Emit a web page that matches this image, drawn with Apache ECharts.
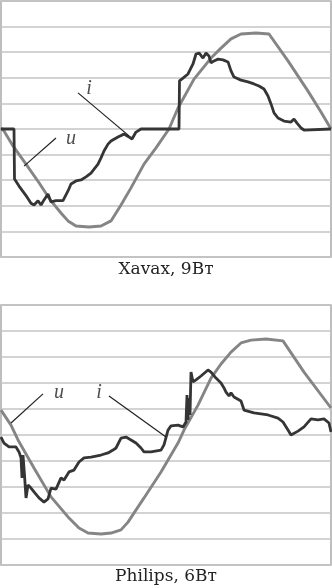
<!DOCTYPE html>
<html>
<head>
<meta charset="utf-8">
<style>html,body{margin:0;padding:0;background:#fff;}#c{width:332px;height:588px;}</style>
<script src="https://cdn.jsdelivr.net/npm/echarts@6/dist/echarts.min.js"></script>
</head>
<body>
<div id="c"></div>
<script>
// Panel captions
var captions = ['Xavax, 9Вт', 'Philips, 6Вт'];

// Top panel (Xavax): [sample, value]
var xavaxU = [[0,0.04],[3,-0.08],[12,-0.66],[25,-1.37],[38,-2.1],[50,-2.81],[60,-3.28],[67,-3.59],[75,-3.79],[88,-3.83],[100,-3.79],[110,-3.59],[120,-2.97],[130,-2.3],[143,-1.37],[155,-0.74],[168,0],[177,0.82],[193,1.95],[210,2.77],[220,3.16],[230,3.52],[240,3.71],[255,3.75],[268,3.71],[287,2.66],[307,1.48],[320,0.66],[330,0]];
var xavaxI = [[0,0],[13,0],[13.5,-1.95],[18,-2.23],[25,-2.6],[30,-2.9],[33,-2.97],[37,-2.8],[40,-2.97],[43,-2.77],[47,-2.54],[50,-2.85],[55,-2.8],[62,-2.8],[67,-2.42],[70,-2.15],[75,-2.03],[80,-1.99],[85,-1.87],[90,-1.72],[97,-1.37],[100,-1.13],[103,-0.86],[107,-0.59],[110,-0.47],[117,-0.31],[123,-0.2],[128,-0.31],[131,-0.39],[135,-0.12],[140,0],[178,0],[178.5,1.88],[182,1.99],[187,2.15],[192,2.54],[195,2.93],[198,2.97],[202,2.77],[205,2.97],[208,2.85],[210,2.58],[213,2.66],[217,2.73],[222,2.7],[227,2.62],[230,2.27],[233,2.03],[240,1.91],[247,1.84],[253,1.76],[258,1.68],[263,1.56],[267,1.29],[270,0.98],[273,0.63],[277,0.43],[283,0.31],[290,0.27],[293,0.39],[296,0.23],[300,0.04],[303,-0.04],[330,0]];

// Bottom panel (Philips)
var philipsU = [[0,0.96],[10,0.38],[17,-0.19],[33,-1.27],[50,-2.38],[67,-3.15],[78,-3.58],[87,-3.77],[100,-3.81],[110,-3.77],[120,-3.65],[127,-3.35],[143,-2.42],[160,-1.42],[177,-0.31],[183,0.19],[197,1.15],[210,2.19],[220,2.73],[230,3.19],[240,3.54],[250,3.65],[265,3.69],[282,3.62],[303,2.42],[330,1.04]];
var philipsI = [[0,-0.08],[3,-0.31],[8,-0.46],[15,-0.46],[18,-0.65],[20,-0.88],[21,-1.65],[22,-0.77],[23.5,-1.54],[25,-2.42],[27,-1.92],[30,-2.04],[33,-2.19],[38,-2.42],[43,-2.58],[47,-2.46],[50,-2.04],[55,-2.08],[60,-1.65],[63,-1.73],[68,-1.42],[73,-1.35],[78,-1.04],[83,-0.88],[90,-0.85],[100,-0.77],[107,-0.69],[112,-0.58],[115,-0.5],[120,-0.12],[125,-0.08],[130,-0.19],[135,-0.31],[140,-0.5],[143,-0.65],[150,-0.65],[160,-0.58],[163,-0.38],[167,0.19],[170,0.35],[177,0.38],[182,0.31],[185,0.5],[186,1.54],[187,0.58],[188,1.42],[189,0.77],[190,2.42],[192,2.04],[195,2.12],[200,2.27],[207,2.5],[210,2.42],[215,2.19],[220,2.0],[223,1.81],[225,1.65],[228,1.5],[230,1.62],[233,1.46],[240,1.31],[243,0.96],[253,0.85],[267,0.77],[277,0.65],[282,0.5],[287,0.19],[290,0],[297,0.15],[303,0.31],[310,0.62],[317,0.58],[323,0.62],[328,0.46],[330,0.12]];

// Annotation labels and leader lines (data coords)
var xavaxLabels = [{name:'u', value:[70,-0.39]}, {name:'i', value:[88,1.56]}];
var xavaxLeaderU = [[55,-0.35],[23,-1.45]];
var xavaxLeaderI = [[77,1.41],[128,-0.27]];
var philipsLabels = [{name:'u', value:[58,1.62]}, {name:'i', value:[98,1.62]}];
var philipsLeaderU = [[42,1.58],[10,0.46]];
var philipsLeaderI = [[108,1.5],[165,-0.08]];

var chart = echarts.init(document.getElementById('c'), null, {renderer:'canvas'});
var gridStyle = {show:true, borderColor:'#a9a9a9', borderWidth:1.5, backgroundColor:'transparent'};
function xAx(i){return {type:'value', gridIndex:i, min:0, max:330, show:false};}
function yAx(i){return {type:'value', gridIndex:i, min:-5, max:5, interval:1,
  axisLine:{show:false}, axisTick:{show:false}, axisLabel:{show:false},
  splitLine:{show:true, lineStyle:{color:'#c4c4c4', width:1.5}}};}
function curve(data, i, color, z, w){return {type:'line', xAxisIndex:i, yAxisIndex:i, data:data, symbol:'none', z:z,
  lineStyle:{color:color, width:w}, silent:true};}
function leader(data, i){return {type:'line', xAxisIndex:i, yAxisIndex:i, data:data, symbol:'none', z:5,
  lineStyle:{color:'#222', width:1.2}, silent:true};}
function labels(data, i){return {type:'scatter', xAxisIndex:i, yAxisIndex:i, data:data, symbolSize:0, z:6,
  label:{show:true, position:'inside', formatter:'{b}', fontFamily:'Liberation Serif', fontStyle:'italic', fontSize:20, color:'#222'}};}

chart.setOption({
  animation:false,
  grid:[Object.assign({left:1, top:1, width:330, height:256}, gridStyle),
        Object.assign({left:1, top:305, width:330, height:260}, gridStyle)],
  xAxis:[xAx(0), xAx(1)],
  yAxis:[yAx(0), yAx(1)],
  series:[
    curve(xavaxU,0,'#858585',3,2.9), curve(xavaxI,0,'#353535',4,2.8),
    leader(xavaxLeaderU,0), leader(xavaxLeaderI,0), labels(xavaxLabels,0),
    curve(philipsU,1,'#858585',3,2.9), curve(philipsI,1,'#353535',4,2.8),
    leader(philipsLeaderU,1), leader(philipsLeaderI,1), labels(philipsLabels,1)
  ],
  graphic:[
    {type:'text', left:'center', top:261, style:{text:captions[0], font:'17px "DejaVu Serif"', fill:'#222'}},
    {type:'text', left:'center', top:568, style:{text:captions[1], font:'17px "DejaVu Serif"', fill:'#222'}}
  ]
});
</script>
</body>
</html>
